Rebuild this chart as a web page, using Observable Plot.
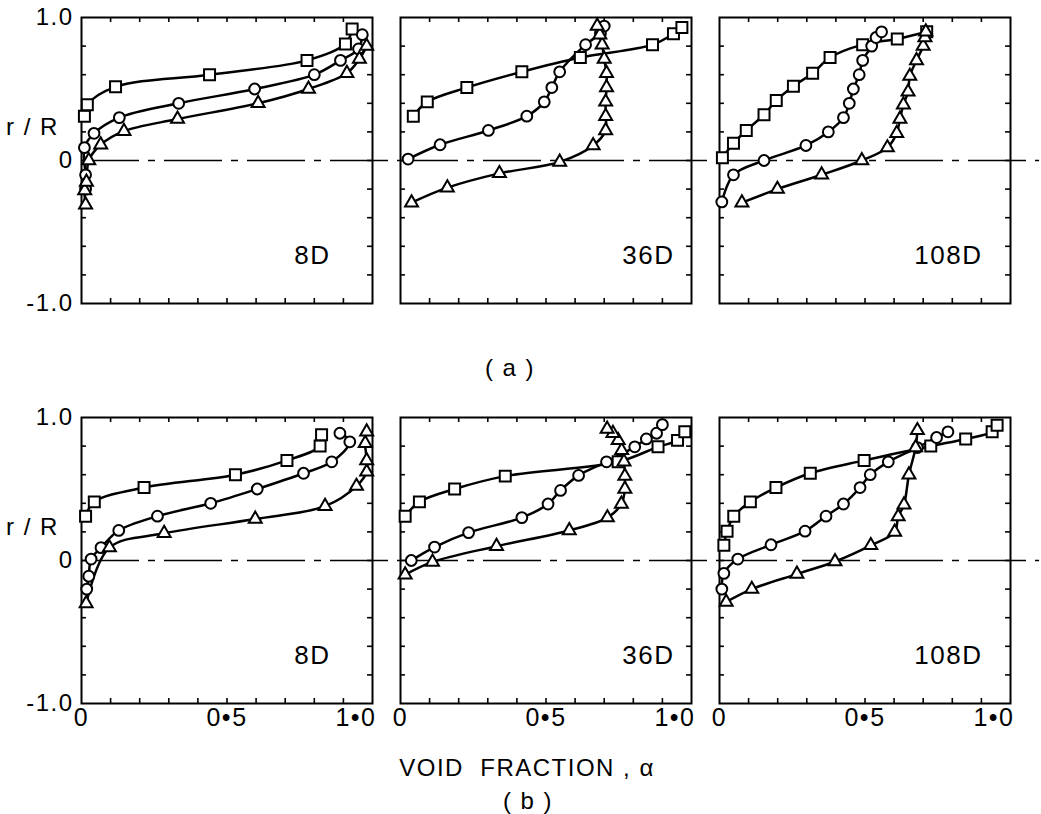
<!DOCTYPE html>
<html>
<head>
<meta charset="utf-8">
<script src="https://cdn.jsdelivr.net/npm/d3@7"></script>
<script src="https://cdn.jsdelivr.net/npm/@observablehq/plot@0.6"></script>
<style>
  html, body { margin: 0; padding: 0; background: #fff; }
  svg text { letter-spacing: 1.5px; }
</style>
</head>
<body>
<div id="chart"></div>
<script>
// ---- categories ----
const panels = ["8D", "36D", "108D"];
const rows = ["a", "b"];
const seriesNames = ["square", "circle", "triangle"];

// ---- tick values and labels ----
const xTickValues = [0, 0.5];
const xTickLabels = ["0", "0•5"];
const xEndTickValues = [1];
const xEndTickLabels = ["1•0"];
const yTickValues = [-1, 0, 1];
const yTickLabels = ["-1.0", "0", "1.0"];
const xMinorTicks = [0.1, 0.2, 0.3, 0.4, 0.5, 0.6, 0.7, 0.8, 0.9];
const yMinorTicks = [-0.8, -0.6, -0.4, -0.2, 0, 0.2, 0.4, 0.6, 0.8];

// ---- data: [void fraction alpha, r/R] ----
// (a) 8D
const a8D_square = [[0.01,0.31],[0.02,0.39],[0.117,0.515],[0.44,0.60],[0.775,0.70],[0.907,0.815],[0.93,0.92]];
const a8D_circle = [[0.014,-0.20],[0.014,-0.10],[0.01,0.09],[0.043,0.19],[0.13,0.30],[0.334,0.40],[0.595,0.50],[0.80,0.60],[0.89,0.70],[0.952,0.78],[0.965,0.88]];
const a8D_triangle = [[0.014,-0.31],[0.011,-0.21],[0.017,-0.15],[0.025,0.0],[0.066,0.11],[0.146,0.205],[0.33,0.29],[0.607,0.40],[0.78,0.50],[0.912,0.61],[0.955,0.71],[0.98,0.80]];
// (a) 36D
const a36D_square = [[0.044,0.31],[0.092,0.41],[0.228,0.51],[0.417,0.62],[0.618,0.72],[0.866,0.81],[0.938,0.886],[0.967,0.93]];
const a36D_circle = [[0.026,0.01],[0.136,0.11],[0.302,0.21],[0.434,0.31],[0.494,0.41],[0.52,0.51],[0.547,0.62],[0.636,0.81],[0.687,0.89],[0.70,0.94]];
const a36D_triangle = [[0.038,-0.295],[0.161,-0.19],[0.34,-0.09],[0.547,-0.01],[0.662,0.105],[0.705,0.21],[0.705,0.31],[0.705,0.41],[0.708,0.51],[0.708,0.61],[0.70,0.71],[0.693,0.81],[0.685,0.88],[0.676,0.94]];
// (a) 108D
const a108D_square = [[0.01,0.02],[0.048,0.12],[0.092,0.21],[0.153,0.32],[0.195,0.42],[0.254,0.52],[0.32,0.61],[0.38,0.72],[0.492,0.81],[0.611,0.85],[0.712,0.90]];
const a108D_circle = [[0.008,-0.29],[0.048,-0.10],[0.153,0.0],[0.297,0.105],[0.374,0.20],[0.426,0.30],[0.446,0.40],[0.46,0.50],[0.48,0.60],[0.492,0.70],[0.523,0.80],[0.538,0.86],[0.557,0.90]];
const a108D_triangle = [[0.077,-0.295],[0.199,-0.20],[0.351,-0.10],[0.489,0.0],[0.577,0.09],[0.609,0.19],[0.62,0.29],[0.632,0.39],[0.648,0.48],[0.654,0.59],[0.677,0.70],[0.70,0.80],[0.706,0.86],[0.709,0.90]];
// (b) 8D
const b8D_square = [[0.014,0.31],[0.044,0.41],[0.215,0.51],[0.529,0.60],[0.706,0.70],[0.82,0.80],[0.825,0.88]];
const b8D_circle = [[0.018,-0.20],[0.025,-0.11],[0.033,0.01],[0.067,0.09],[0.128,0.21],[0.261,0.31],[0.444,0.40],[0.604,0.50],[0.763,0.61],[0.86,0.69],[0.922,0.83],[0.888,0.89]];
const b8D_triangle = [[0.016,-0.30],[0.096,0.09],[0.284,0.19],[0.597,0.29],[0.837,0.38],[0.945,0.52],[0.98,0.62],[0.98,0.70],[0.975,0.82],[0.98,0.90]];
// (b) 36D
const b36D_square = [[0.016,0.31],[0.065,0.41],[0.186,0.50],[0.36,0.59],[0.748,0.69],[0.885,0.795],[0.952,0.84],[0.977,0.90]];
const b36D_circle = [[0.037,0.0],[0.117,0.094],[0.234,0.195],[0.417,0.30],[0.507,0.395],[0.55,0.49],[0.612,0.595],[0.708,0.69],[0.805,0.795],[0.845,0.85],[0.88,0.89],[0.90,0.95]];
const b36D_triangle = [[0.016,-0.10],[0.11,-0.01],[0.33,0.10],[0.58,0.21],[0.711,0.30],[0.759,0.395],[0.771,0.50],[0.771,0.59],[0.768,0.69],[0.76,0.77],[0.748,0.84],[0.73,0.89],[0.71,0.92]];
// (b) 108D
const b108D_square = [[0.015,0.106],[0.026,0.205],[0.049,0.31],[0.106,0.41],[0.194,0.51],[0.312,0.61],[0.497,0.70],[0.726,0.80],[0.846,0.85],[0.937,0.90],[0.954,0.945]];
const b108D_circle = [[0.008,-0.20],[0.015,-0.09],[0.063,0.01],[0.177,0.11],[0.294,0.205],[0.366,0.31],[0.426,0.395],[0.483,0.51],[0.518,0.60],[0.58,0.69],[0.68,0.79],[0.746,0.86],[0.785,0.90]];
const b108D_triangle = [[0.023,-0.29],[0.111,-0.20],[0.266,-0.095],[0.397,-0.007],[0.52,0.106],[0.602,0.20],[0.614,0.307],[0.634,0.39],[0.651,0.60],[0.674,0.79],[0.68,0.91]];

// ---- texts ----
const panelLabels = [
  {row: "a", panel: "8D", text: "8D"}, {row: "a", panel: "36D", text: "36D"}, {row: "a", panel: "108D", text: "108D"},
  {row: "b", panel: "8D", text: "8D"}, {row: "b", panel: "36D", text: "36D"}, {row: "b", panel: "108D", text: "108D"}
];
const yAxisTitles = [{row: "a", panel: "8D", text: "r / R"}, {row: "b", panel: "8D", text: "r / R"}];
const rowCaptions = [{row: "a", panel: "36D", text: "( a )"}, {row: "b", panel: "36D", text: "( b )"}];
const xAxisTitle = [{row: "b", panel: "36D", text: "VOID  FRACTION , α"}];

// ---- build table ----
const sources = {
  a8D_square, a8D_circle, a8D_triangle, a36D_square, a36D_circle, a36D_triangle,
  a108D_square, a108D_circle, a108D_triangle, b8D_square, b8D_circle, b8D_triangle,
  b36D_square, b36D_circle, b36D_triangle, b108D_square, b108D_circle, b108D_triangle
};
const table = [];
for (const [key, pts] of Object.entries(sources)) {
  const m = key.match(/^([ab])(\d+D)_(\w+)$/);
  pts.forEach(([alpha, r], i) => table.push({key, row: m[1], panel: m[2], series: m[3], alpha, r, i}));
}

const ff = "'Liberation Sans', Arial, sans-serif";
const labelMark = (panel, dx, dy) => Plot.text(panelLabels.filter(d => d.panel === panel), {
  fx: "panel", fy: "row", text: "text", frameAnchor: "bottom-right", dx, dy,
  fontSize: 26, fontFamily: ff
});
const dotMark = (series, r) => Plot.dot(table.filter(d => d.series === series), {
  fx: "panel", fy: "row", x: "alpha", y: "r", symbol: "series", r,
  fill: "white", stroke: "black", strokeWidth: 2
});

const chart = Plot.plot({
  width: 1041,
  height: 814,
  marginLeft: 80,
  marginRight: 30,
  marginTop: 17,
  marginBottom: 111,
  fx: {domain: panels, paddingInner: 0.0876, paddingOuter: 0, axis: null},
  fy: {domain: rows, paddingInner: 0.285, paddingOuter: 0, axis: null},
  x: {domain: [0, 1]},
  y: {domain: [-1, 1]},
  symbol: {domain: seriesNames, range: ["square", "circle", "triangle"]},
  style: {fontFamily: ff, color: "black", background: "white"},
  marks: [
    // dash-dot centre line r/R = 0, running through the gaps
    Plot.ruleY([0], {x1: 0, x2: 1.1, stroke: "black", strokeWidth: 1.6, strokeDasharray: "58,9,7,9"}),
    Plot.frame({stroke: "black", strokeWidth: 2}),
    // inward minor ticks on all four sides
    Plot.ruleX(xMinorTicks, {x: d => d, y1: -1, y2: -0.965, strokeWidth: 1.6}),
    Plot.ruleX(xMinorTicks, {x: d => d, y1: 0.965, y2: 1, strokeWidth: 1.6}),
    Plot.ruleY(yMinorTicks, {y: d => d, x1: 0, x2: 0.017, strokeWidth: 1.6}),
    Plot.ruleY(yMinorTicks, {y: d => d, x1: 0.983, x2: 1, strokeWidth: 1.6}),
    // axes labels
    Plot.axisX({ticks: xTickValues, tickFormat: d => xTickLabels[xTickValues.indexOf(d)], tickSize: 0, tickPadding: 5, label: null, fontSize: 25}),
    Plot.axisX({ticks: xEndTickValues, tickFormat: d => xEndTickLabels[xEndTickValues.indexOf(d)], tickSize: 0, tickPadding: 5, label: null, fontSize: 25, textAnchor: "end", dx: 4}),
    Plot.axisY({ticks: yTickValues, tickFormat: d => yTickLabels[yTickValues.indexOf(d)], tickSize: 0, tickPadding: 8, label: null, fontSize: 24}),
    // curves and markers
    Plot.line(table, {fx: "panel", fy: "row", x: "alpha", y: "r", z: "key", curve: "catmull-rom", stroke: "black", strokeWidth: 2.5}),
    dotMark("square", 6.2),
    dotMark("circle", 5.4),
    dotMark("triangle", 4.8),
    // panel labels
    labelMark("8D", -42, -40),
    labelMark("36D", -17, -40),
    labelMark("108D", -28, -40),
    // y-axis title
    Plot.text(yAxisTitles, {fx: "panel", fy: "row", text: "text", frameAnchor: "left", dx: -49, dy: -33, textAnchor: "middle", fontSize: 24, fontFamily: ff}),
    // captions
    Plot.text(rowCaptions.filter(d => d.row === "a"), {fx: "panel", fy: "row", text: "text", frameAnchor: "bottom", dx: -36, dy: 65, fontSize: 24, fontFamily: ff, lineAnchor: "middle"}),
    Plot.text(rowCaptions.filter(d => d.row === "b"), {fx: "panel", fy: "row", text: "text", frameAnchor: "bottom", dx: -18, dy: 98, fontSize: 24, fontFamily: ff, lineAnchor: "middle"}),
    Plot.text(xAxisTitle, {fx: "panel", fy: "row", text: "text", frameAnchor: "bottom", dx: -19, dy: 65, fontSize: 24, fontFamily: ff, lineAnchor: "middle"})
  ]
});
document.getElementById("chart").append(chart);
</script>
</body>
</html>
